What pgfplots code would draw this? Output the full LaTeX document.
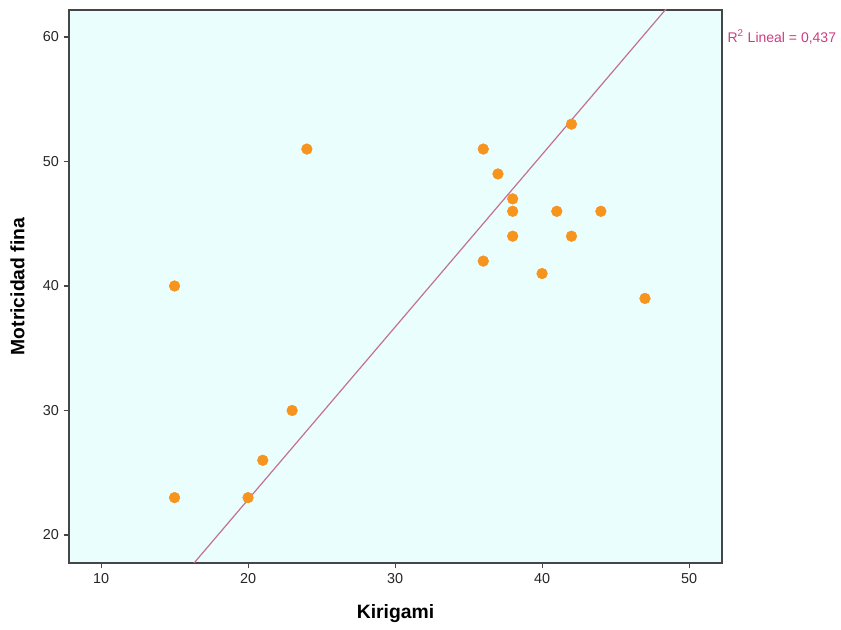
\documentclass[border=0pt]{standalone}
\usepackage{pgfplots}
\pgfplotsset{compat=1.18}
\usepackage{fontspec}
\setmainfont{Liberation Sans}
\definecolor{bgc}{RGB}{235,254,254}
\definecolor{ptc}{RGB}{247,148,29}
\definecolor{lnc}{RGB}{196,112,150}
\definecolor{lblc}{RGB}{204,61,127}
\definecolor{axc}{RGB}{70,70,70}
\begin{document}
\begin{tikzpicture}
\begin{axis}[
  name=ax,
  scale only axis,
  width=489.75pt, height=414.75pt,
  xmin=7.82, xmax=52.24, ymin=17.75, ymax=62.17,
  xtick={10,20,30,40,50}, ytick={20,30,40,50,60},
  tick align=outside, tick pos=left,
  major tick length=4pt,
  axis line style={axc, line width=0.9pt},
  every tick/.style={axc, line width=0.8pt},
  axis background/.style={fill=bgc},
  tick label style={font=\fontsize{10.8}{12}\selectfont, text=black!85},
  /pgf/number format/assume math mode=true,
  xlabel={\textbf{Kirigami}}, ylabel={\textbf{Motricidad fina}},
  label style={font=\fontsize{14.5}{16}\selectfont},
  xlabel style={yshift=-9pt},
  ylabel style={yshift=7pt},
  clip=true,
]
\addplot[lnc, line width=0.9pt] coordinates {(15,15.91) (50,64.42)};
\addplot[only marks, mark=*, mark size=4pt, mark options={fill=ptc, draw=ptc}] coordinates {
(15,40) (15,23) (20,23) (21,26) (23,30) (24,51) (36,51) (36,42) (37,49)
(38,47) (38,46) (38,44) (40,41) (41,46) (42,53) (42,44) (44,46) (47,39)};
\end{axis}
\node[anchor=west, text=lblc, font=\fontsize{10.5}{12}\selectfont, inner sep=0pt] at ([xshift=4pt,yshift=-20.25pt]ax.north east) {R\textsuperscript{2} Lineal = 0,437};
\pgfresetboundingbox
\path (ax.south west) ++(-51.75pt,-50.25pt) rectangle ++(630.75pt,472.5pt);
\end{tikzpicture}
\end{document}
